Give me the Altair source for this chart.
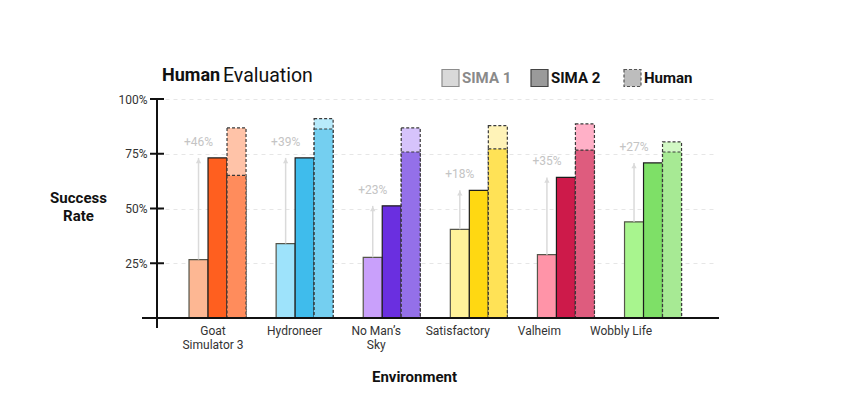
import altair as alt
import pandas as pd

# ---------------- data ----------------
envs = ["Goat Simulator 3", "Hydroneer", "No Man’s Sky", "Satisfactory", "Valheim", "Wobbly Life"]
series = ["SIMA 1", "SIMA 2", "Human"]
sima1 = [0.267, 0.340, 0.277, 0.405, 0.289, 0.439]
sima2 = [0.731, 0.731, 0.512, 0.583, 0.642, 0.708]
human_low = [0.651, 0.863, 0.758, 0.772, 0.767, 0.758]
human_top = [0.868, 0.910, 0.868, 0.878, 0.886, 0.804]
gains = ["+46%", "+39%", "+23%", "+18%", "+35%", "+27%"]
y_ticks = [0.25, 0.5, 0.75, 1.0]

# ---------------- palette ----------------
c_sima1 = ["#FDB793", "#9EE3FB", "#C9A0FB", "#FFF29A", "#FF94A8", "#A8F58E"]
c_sima2 = ["#FF5F1F", "#3FBCEC", "#6A2FE0", "#FFD812", "#CD1A4A", "#7EE067"]
c_hlow = ["#FF8C5C", "#74CFF0", "#9470E9", "#FFE256", "#DE5C7E", "#A7EA94"]
c_htop = ["#FFC3A8", "#B8EAFB", "#D6C3FB", "#FFF3B8", "#FFB0C7", "#D2F8C5"]

FONT = "Roboto"
W, H = 558, 219


def frame(vals, ser, tag):
    return pd.DataFrame({
        "env": envs,
        "series": [ser] * len(envs),
        "v": vals,
        "key": [e + "|" + tag for e in envs],
    })


d_s1 = frame(sima1, "SIMA 1", "s1")
d_s2 = frame(sima2, "SIMA 2", "s2")
d_hl = frame(human_low, "Human", "hl")
d_ht = frame(human_top, "Human", "ht")
d_anno = pd.DataFrame({"env": envs, "series": ["SIMA 1"] * len(envs),
                       "v": sima1, "v2": sima2, "label": gains})
d_anno_top = pd.DataFrame({"env": envs, "series": ["SIMA 1"] * len(envs),
                           "v": sima2, "label": gains})
d_ticks = pd.DataFrame({"v": y_ticks})
d_envs = pd.DataFrame({"env": envs})

keys = []
cols = []
for tag, pal in [("s1", c_sima1), ("s2", c_sima2), ("hl", c_hlow), ("ht", c_htop)]:
    for e, c in zip(envs, pal):
        keys.append(e + "|" + tag)
        cols.append(c)

# bar groups and their category labels sit on slightly different spacings
x_scale = alt.Scale(domain=envs, paddingInner=0.3456, paddingOuter=0.376, align=0.489)
lab_scale = alt.Scale(type="band", domain=envs, paddingInner=0, paddingOuter=0.419, align=0.222)
y_scale = alt.Scale(domain=[0, 1])
off_scale = alt.Scale(domain=series, paddingInner=0, paddingOuter=0)
color_scale = alt.Scale(domain=keys, range=cols)

label_expr = ("datum.label == 'Goat Simulator 3' ? ['Goat', 'Simulator 3'] : "
              "datum.label == 'No Man’s Sky' ? ['No Man’s', 'Sky'] : datum.label")

x_axis = alt.Axis(title="Environment", labelExpr=label_expr, labelAngle=0, orient="bottom",
                  domain=False, ticks=False, labelPadding=7, labelFont=FONT,
                  labelFontSize=12, labelColor="#333333", labelLineHeight=14,
                  titleFont=FONT, titleFontSize=15, titleFontWeight="bold",
                  titleColor="#111111", titleX=257, titleY=58,
                  titleBaseline="middle", titleAnchor="start", titleAlign="center")
y_axis = alt.Axis(title=["Success", "Rate"], values=y_ticks, format=".0%",
                  domain=False, ticks=False, labelPadding=10, labelFont=FONT,
                  labelFontSize=12, labelColor="#333333",
                  grid=True, gridColor="#e6e6e6", gridDash=[4, 4], gridWidth=1,
                  titleAngle=0, titleFont=FONT, titleFontSize=15,
                  titleFontWeight="bold", titleColor="#111111", titleX=-79,
                  titleY=98, titleAlign="center", titleBaseline="middle",
                  titleLineHeight=18)

X = alt.X("env:N", sort=envs, scale=x_scale, axis=None)
XO = alt.XOffset("series:N", scale=off_scale, sort=series)
Y = alt.Y("v:Q", scale=y_scale, axis=y_axis)
C = alt.Color("key:N", scale=color_scale, legend=None)


def bars(df, stroke, dash=None):
    kw = dict(stroke=stroke, strokeWidth=1.2)
    if dash:
        kw["strokeDash"] = dash
    return alt.Chart(df).mark_bar(**kw).encode(x=X, xOffset=XO, y=Y, color=C)


b_s1 = bars(d_s1, "#55554a")
b_s2 = bars(d_s2, "#1c1c1c")
b_ht = bars(d_ht, "#3a3a3a", [3, 2])
b_hl = bars(d_hl, "#3a3a3a", [3, 2])

arrow = alt.Chart(d_anno).mark_rule(color="#dadada", strokeWidth=1.5).encode(
    x=X, xOffset=XO, y=Y, y2="v2:Q")
head = alt.Chart(d_anno_top).mark_point(shape="triangle-up", filled=True,
                                        color="#dadada", size=28, opacity=1,
                                        yOffset=3).encode(x=X, xOffset=XO, y=Y)
gain_txt = alt.Chart(d_anno_top).mark_text(dy=-16, font=FONT, fontSize=12,
                                           color="#c4c4c4").encode(
    x=X, xOffset=XO, y=Y, text="label:N")

# category labels (own band scale)
labels = alt.Chart(d_envs).mark_point(opacity=0).encode(
    x=alt.X("env:N", sort=envs, scale=lab_scale, axis=x_axis), y=alt.value(H))

# axis lines and crossing ticks
x_line = alt.Chart(pd.DataFrame({"a": [0]})).mark_rule(color="#111111", strokeWidth=2).encode(
    x=alt.value(-15), x2=alt.value(W + 4), y=alt.value(H))
y_line = alt.Chart(pd.DataFrame({"a": [0]})).mark_rule(color="#111111", strokeWidth=2).encode(
    x=alt.value(0), y=alt.value(0), y2=alt.value(H + 10))
ticks = alt.Chart(d_ticks).mark_rule(color="#111111", strokeWidth=2).encode(
    x=alt.value(-7), x2=alt.value(7), y=Y)


def txt(s, x, y, size, weight="normal", color="#111111"):
    return alt.Chart(pd.DataFrame({"a": [0]})).mark_text(
        text=s, align="left", baseline="middle", font=FONT, fontSize=size,
        fontWeight=weight, color=color).encode(x=alt.value(x), y=alt.value(y))


def box(x1, x2, y1, y2, fill, stroke, dash=None):
    kw = dict(fill=fill, stroke=stroke, strokeWidth=1.2)
    if dash:
        kw["strokeDash"] = dash
    return alt.Chart(pd.DataFrame({"a": [0]})).mark_rect(**kw).encode(
        x=alt.value(x1), x2=alt.value(x2), y=alt.value(y1), y2=alt.value(y2))


title1 = txt("Human", 5, -23, 18, "bold")
title2 = txt("Evaluation", 66, -23, 19.5, "normal")

leg1 = box(285, 302, -29.5, -12.5, "#d9d9d9", "#8c8c8c")
leg1t = txt("SIMA 1", 305, -21, 15, "bold", "#8a8a8a")
leg2 = box(374, 391, -29.5, -12.5, "#9a9a9a", "#444444")
leg2t = txt("SIMA 2", 394, -21, 15, "bold", "#111111")
leg3 = box(467, 484, -29.5, -12.5, "#bdbdbd", "#555555", [3, 2])
leg3t = txt("Human", 487, -21, 15, "bold", "#111111")

main = alt.layer(b_s1, b_s2, b_ht, b_hl, arrow, head, gain_txt)

chart = alt.layer(
    main, labels,
    x_line, y_line, ticks,
    title1, title2, leg1, leg1t, leg2, leg2t, leg3, leg3t,
).resolve_scale(x="independent").properties(
    width=W, height=H,
    autosize=alt.AutoSizeParams(type="none"),
    padding={"left": 149, "top": 91, "right": 120, "bottom": 66},
    background="white",
).configure_view(stroke=None)

chart.save("out.html", embed_options={"renderer": "svg", "actions": False})
